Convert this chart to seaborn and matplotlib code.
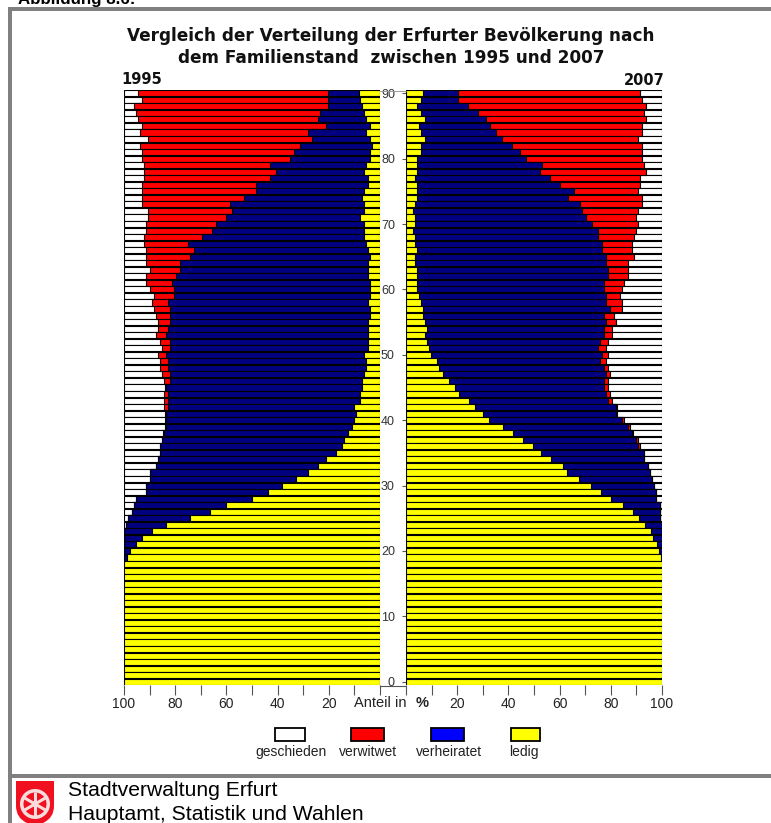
import numpy as np
import pandas as pd
import seaborn as sns
import matplotlib
matplotlib.use('Agg')
import matplotlib.pyplot as plt
from matplotlib.patches import Rectangle, Circle, Wedge, PathPatch
from matplotlib.path import Path

# values are cumulative shares in %, counted from the centre, age 90 down to age 19
ledig_1995 = [8.3, 7.7, 7.2, 6.1, 5.3, 3.8, 5.3, 3.8, 3.0, 3.8, 3.8, 5.3, 6.1, 4.6, 4.6, 6.1, 6.9, 6.1,
              6.1, 7.7, 6.1, 6.1, 6.1, 5.3, 4.6, 3.8, 4.6, 4.6, 4.6, 3.8, 3.8, 3.8, 4.6, 3.8, 3.8, 4.6,
              4.6, 4.6, 4.6, 4.6, 6.1, 5.3, 5.3, 6.1, 6.9, 6.9, 7.7, 7.7, 10.0, 9.2, 10.0, 10.8, 12.4, 13.9,
              14.7, 17.1, 21.0, 24.1, 28.0, 32.7, 38.2, 43.6, 49.9, 60.0, 66.3, 74.1, 83.5, 88.9, 92.8, 95.2, 97.5, 98.8]
verheiratet_1995 = [20.4, 20.4, 20.4, 23.6, 24.3, 21.2, 28.3, 26.7, 31.4, 33.7, 35.3, 43.1, 40.8, 43.1, 48.6, 48.6, 53.3, 58.7,
                    57.9, 60.3, 64.2, 65.8, 69.7, 75.1, 72.8, 74.3, 78.3, 78.3, 79.8, 81.4, 80.6, 80.6, 82.9, 82.2, 82.2, 82.2,
                    82.9, 83.7, 82.2, 82.2, 83.7, 82.9, 82.9, 82.2, 82.2, 83.5, 82.9, 82.9, 82.9, 83.5, 83.5, 83.5, 84.2, 85.0,
                    85.8, 85.8, 86.6, 87.4, 89.7, 89.7, 91.3, 91.3, 95.2, 96.0, 96.7, 98.3, 99.1, 100.0, 100.0, 100.0, 100.0, 100.0]
verwitwet_1995 = [94.4, 92.8, 96.0, 95.2, 94.4, 92.8, 93.6, 90.5, 93.6, 92.8, 92.8, 92.1, 92.1, 92.1, 92.8, 92.8, 92.8, 92.8,
                  90.5, 90.5, 91.3, 91.3, 92.1, 92.1, 91.3, 91.3, 91.3, 89.7, 91.3, 91.3, 89.7, 88.2, 88.9, 88.2, 87.4, 86.6,
                  86.6, 87.4, 85.8, 85.0, 86.6, 85.8, 85.8, 85.0, 84.2, 84.0, 84.2, 84.2, 84.2, 84.0, 84.0, 84.0, 84.6, 85.0,
                  86.0, 86.0, 86.6, 87.6, 90.0, 90.0, 91.5, 91.5, 95.2, 96.2, 97.0, 98.3, 99.1, 100.0, 100.0, 100.0, 100.0, 100.0]

ledig_2007 = [6.8, 6.0, 4.4, 6.0, 7.6, 5.2, 6.0, 7.6, 6.0, 6.0, 4.4, 4.4, 4.4, 3.6, 4.4, 4.4, 4.4, 3.6,
              2.9, 3.6, 3.6, 2.9, 3.6, 3.6, 4.4, 3.6, 3.6, 4.4, 4.4, 4.4, 4.4, 5.2, 6.0, 6.8, 6.8, 7.6,
              8.3, 7.6, 8.3, 9.1, 9.9, 12.2, 13.0, 14.6, 16.9, 19.3, 20.8, 24.7, 27.1, 30.2, 32.6, 38.0, 41.9, 45.8,
              49.7, 52.9, 56.8, 61.5, 63.0, 67.7, 72.4, 76.3, 80.2, 84.9, 88.8, 91.1, 93.5, 95.8, 96.6, 98.2, 99.0, 99.8]
verheiratet_2007 = [20.2, 20.2, 24.1, 28.0, 31.1, 32.7, 35.0, 37.4, 41.3, 44.4, 46.7, 53.0, 52.2, 56.1, 60.0, 65.5, 63.2, 67.8,
                    68.6, 70.2, 72.5, 74.9, 74.9, 76.4, 76.4, 78.0, 78.0, 78.8, 78.8, 77.2, 77.2, 78.0, 78.0, 79.6, 77.2, 78.0,
                    77.2, 77.2, 75.7, 74.9, 76.4, 75.7, 77.2, 78.0, 77.2, 77.2, 78.0, 78.8, 81.9, 81.9, 84.2, 86.6, 88.2, 89.7,
                    90.5, 92.8, 92.8, 94.4, 95.2, 96.0, 96.7, 97.5, 97.5, 99.1, 99.1, 99.1, 100.0, 100.0, 100.0, 100.0, 100.0, 100.0]
verwitwet_2007 = [91.3, 92.1, 93.6, 92.8, 93.6, 92.1, 92.1, 90.5, 92.1, 92.1, 92.1, 92.8, 93.6, 91.3, 91.3, 90.5, 92.1, 92.1,
                  90.5, 89.7, 90.5, 89.7, 88.9, 88.2, 88.2, 88.9, 86.6, 86.6, 86.6, 85.0, 84.2, 83.5, 84.2, 84.2, 81.1, 81.9,
                  80.3, 80.3, 78.8, 78.0, 78.8, 78.0, 78.8, 79.6, 78.8, 78.8, 79.6, 80.3, 82.5, 82.5, 85.0, 87.4, 88.5, 90.5,
                  91.3, 92.8, 92.8, 94.4, 95.2, 96.0, 96.7, 97.5, 97.5, 99.1, 99.1, 99.1, 100.0, 100.0, 100.0, 100.0, 100.0, 100.0]

# age 18 down to 0: everybody is ledig
kinder = [100.0, 100.0, 100.0, 100.0, 100.0, 100.0, 100.0, 100.0, 100.0, 100.0,
          100.0, 100.0, 100.0, 100.0, 100.0, 100.0, 100.0, 100.0, 100.0]

alter = np.arange(90, -1, -1)
alter_ticks = [90, 80, 70, 60, 50, 40, 30, 20, 10, 0]
legend_names = ['geschieden', 'verwitwet', 'verheiratet', 'ledig']
legend_colors = ['white', '#ff0000', '#0000ff', '#ffff00']
bar_colors = ['white', '#ff0000', '#000080', '#ffff00']

W, H = 771, 823
sns.set_theme(style='white')
plt.rcParams['font.family'] = ['Liberation Sans', 'DejaVu Sans']
fig = plt.figure(figsize=(W / 100, H / 100), dpi=100)


def px_axes(x0, y0, x1, y1):
    return fig.add_axes([x0 / W, 1 - y1 / H, (x1 - x0) / W, (y1 - y0) / H])


def pyramid(ax, ledig, verh, verw):
    df = pd.DataFrame({'alter': alter,
                       'ledig': ledig + kinder,
                       'verh': verh + kinder,
                       'verw': verw + kinder,
                       'gesch': 100.0})
    # painted from the outermost layer in, so each bar hides the next one's base
    for col, c in zip(['gesch', 'verw', 'verh', 'ledig'], bar_colors):
        sns.barplot(data=df, x=col, y='alter', order=list(alter), orient='h', color=c, saturation=1,
                    width=0.93, edgecolor='black', linewidth=0.8, ax=ax)
    ax.set_xlabel('')
    ax.set_ylabel('')
    ax.set_ylim(90.5, -0.5)
    for s in ax.spines.values():
        s.set_visible(False)
    ax.set_xticks(np.arange(0, 101, 10))
    ax.tick_params(axis='x', bottom=True, length=7, width=0.8, color='#555555', pad=2,
                   labelsize=10, labelcolor='#222222')


ax_l = px_axes(124, 90, 380, 685)
pyramid(ax_l, ledig_1995, verheiratet_1995, verwitwet_1995)
ax_l.set_xlim(100, 0)
ax_l.set_xticklabels(['', '', '20', '', '40', '', '60', '', '80', '', '100'])
ax_l.set_yticks([])

ax_r = px_axes(406, 90, 662, 685)
pyramid(ax_r, ledig_2007, verheiratet_2007, verwitwet_2007)
ax_r.set_xlim(0, 100)
ax_r.set_xticklabels(['', '', '20', '', '40', '', '60', '', '80', '', '100'])
ax_r.set_yticks([list(alter).index(a) for a in alter_ticks])
ax_r.set_yticklabels(alter_ticks)
ax_r.tick_params(axis='y', left=True, length=3, width=0.8, color='#555555', pad=5,
                 labelsize=9, labelcolor='#333333')

# overlay in pixel coordinates for the frame, titles, legend and logo
over = fig.add_axes([0, 0, 1, 1], zorder=5)
over.set_xlim(0, W)
over.set_ylim(H, 0)
over.axis('off')
over.patch.set_alpha(0)

grau = '#808080'
over.add_patch(Rectangle((8, 7), W, 3.5, color=grau, lw=0))
over.add_patch(Rectangle((8, 7), 3.5, H, color=grau, lw=0))
over.add_patch(Rectangle((8, 774), W, 3.5, color=grau, lw=0))
over.plot([380, 406], [90.5, 90.5], color='#999999', lw=0.7)
over.plot([380, 406], [686, 686], color='#555555', lw=0.8)

over.text(18, 3.5, 'Abbildung 8.6:', fontsize=12.2, fontweight='bold', color='black', va='baseline')

titel = dict(family='DejaVu Sans', fontweight='bold', color='#111111', ha='center', va='center')
over.text(391, 36, 'Vergleich der Verteilung der Erfurter Bevölkerung nach', fontsize=12.2, **titel)
over.text(391, 58, 'dem Familienstand  zwischen 1995 und 2007', fontsize=12.2, **titel)
over.text(121, 79, '1995', fontsize=10.5, family='DejaVu Sans', fontweight='bold', color='#111111', va='center')
over.text(665, 80, '2007', fontsize=10.5, family='DejaVu Sans', fontweight='bold', color='#111111',
          va='center', ha='right')

over.text(354, 703, 'Anteil in', fontsize=10.5, color='#222222', va='center')
over.text(416, 703, '%', fontsize=10.5, fontweight='bold', color='#222222', va='center')

legend_x = [(275, 305), (351, 384), (431, 464), (511, 540)]
legend_text_x = [291, 368, 449, 524]
for (x0, x1), c, tx, name in zip(legend_x, legend_colors, legend_text_x, legend_names):
    over.add_patch(Rectangle((x0, 728), x1 - x0, 13, facecolor=c, edgecolor='black', lw=1.3))
    over.text(tx, 752, name, fontsize=10, color='#222222', ha='center', va='center')

over.text(68, 791, 'Stadtverwaltung Erfurt', fontsize=15.2, color='black', va='center')
over.text(68, 814, 'Hauptamt, Statistik und Wahlen', fontsize=15.2, color='black', va='center')

# Erfurt shield with the wheel
shield = Path([(16, 781), (54, 781), (54, 806), (54, 818), (43, 823), (35, 826), (27, 823), (16, 818), (16, 806), (16, 781)],
              [Path.MOVETO, Path.LINETO, Path.LINETO, Path.CURVE3, Path.CURVE3, Path.CURVE3, Path.CURVE3, Path.CURVE3,
               Path.LINETO, Path.CLOSEPOLY])
over.add_patch(PathPatch(shield, facecolor='#f01020', edgecolor='none'))
over.add_patch(Wedge((35, 804), 15, 0, 360, width=3.5, color='#f8dcdc', lw=0))
for a in np.deg2rad(np.arange(0, 180, 60) + 30):
    over.plot([35 - 12 * np.cos(a), 35 + 12 * np.cos(a)], [804 - 12 * np.sin(a), 804 + 12 * np.sin(a)],
              color='#f8dcdc', lw=2.2, solid_capstyle='butt')
over.add_patch(Circle((35, 804), 3, color='#f8dcdc', lw=0))

fig.savefig('out.png', dpi=100)
